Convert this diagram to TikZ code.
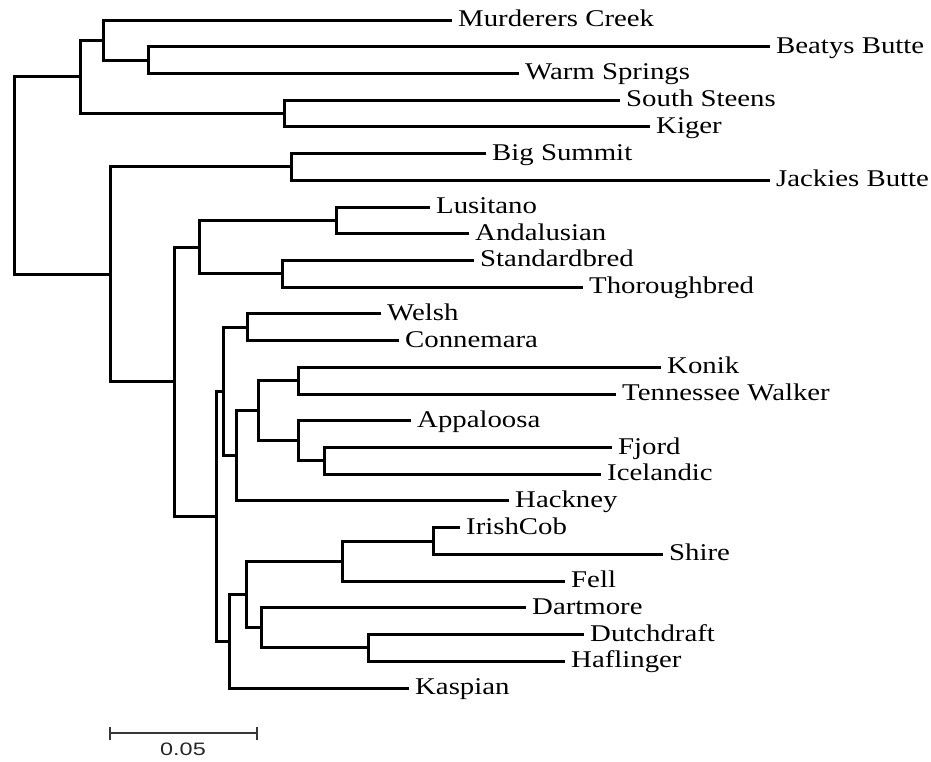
\documentclass[tikz,border=0pt]{standalone}
\usepackage{fontspec}
\setmainfont{Liberation Serif}[FakeStretch=1.2]
\newfontfamily\barfont{Liberation Sans}[FakeStretch=1.3]
\begin{document}
\begin{tikzpicture}[x=1pt,y=-1pt,
  br/.style={line width=3pt, line join=miter, line cap=rect, black},
  lab/.style={anchor=base west, inner sep=0pt, xshift=8pt, yshift=-6.5pt, font=\fontsize{24}{28}\selectfont, text=black},
  sbar/.style={line width=2pt, color=black!78}]
\useasboundingbox (0,0) rectangle (931,761);
% leaf tips
\coordinate (murderers) at (450,20.00);
\coordinate (beatys)    at (768,46.72);
\coordinate (warm)      at (517,73.44);
\coordinate (ssteens)   at (618,100.16);
\coordinate (kiger)     at (648,126.88);
\coordinate (bigsummit) at (484,153.60);
\coordinate (jackies)   at (768,180.32);
\coordinate (lusitano)  at (428,207.04);
\coordinate (andalusian) at (467,233.76);
\coordinate (standard)  at (472,260.48);
\coordinate (thorough)  at (581,287.20);
\coordinate (welsh)     at (379,313.92);
\coordinate (connemara) at (397,340.64);
\coordinate (konik)     at (659,367.36);
\coordinate (tennessee) at (614,394.08);
\coordinate (appaloosa) at (409,420.80);
\coordinate (fjord)     at (610,447.52);
\coordinate (icelandic) at (599,474.24);
\coordinate (hackney)   at (507,500.96);
\coordinate (irishcob)  at (458,527.68);
\coordinate (shire)     at (661,554.40);
\coordinate (fell)      at (563,581.12);
\coordinate (dartmore)  at (524,607.84);
\coordinate (dutch)     at (582,634.56);
\coordinate (haflinger) at (563,661.28);
\coordinate (kaspian)   at (407,688.00);
% internal nodes
\coordinate (nRoot) at (14,175.57);
\coordinate (nA) at (80,76.78);
\coordinate (nB) at (103,40.04);
\coordinate (nC) at (148,60.08);
\coordinate (nD) at (284,113.52);
\coordinate (nF) at (110,274.37);
\coordinate (nE) at (291,166.96);
\coordinate (nI) at (174,381.77);
\coordinate (nH) at (199,247.12);
\coordinate (nG) at (336,220.40);
\coordinate (nJ) at (282,273.84);
\coordinate (nK) at (216,516.41);
\coordinate (nM) at (223,391.58);
\coordinate (nL) at (247,327.28);
\coordinate (nN) at (236,455.87);
\coordinate (nO) at (258,410.78);
\coordinate (nP) at (298,380.72);
\coordinate (nQ) at (298,440.84);
\coordinate (nR) at (324,460.88);
\coordinate (nV) at (229,641.24);
\coordinate (nU) at (246,594.48);
\coordinate (nT) at (342,561.08);
\coordinate (nS) at (433,541.04);
\coordinate (nW) at (261,627.88);
\coordinate (nX) at (368,647.92);
% branches
\draw[br] (nRoot) |- (nA);  \draw[br] (nRoot) |- (nF);
\draw[br] (nA) |- (nB);     \draw[br] (nA) |- (nD);
\draw[br] (nB) |- (murderers); \draw[br] (nB) |- (nC);
\draw[br] (nC) |- (beatys); \draw[br] (nC) |- (warm);
\draw[br] (nD) |- (ssteens); \draw[br] (nD) |- (kiger);
\draw[br] (nF) |- (nE);     \draw[br] (nF) |- (nI);
\draw[br] (nE) |- (bigsummit); \draw[br] (nE) |- (jackies);
\draw[br] (nI) |- (nH);     \draw[br] (nI) |- (nK);
\draw[br] (nH) |- (nG);     \draw[br] (nH) |- (nJ);
\draw[br] (nG) |- (lusitano); \draw[br] (nG) |- (andalusian);
\draw[br] (nJ) |- (standard); \draw[br] (nJ) |- (thorough);
\draw[br] (nK) |- (nM);     \draw[br] (nK) |- (nV);
\draw[br] (nM) |- (nL);     \draw[br] (nM) |- (nN);
\draw[br] (nL) |- (welsh);  \draw[br] (nL) |- (connemara);
\draw[br] (nN) |- (nO);     \draw[br] (nN) |- (hackney);
\draw[br] (nO) |- (nP);     \draw[br] (nO) |- (nQ);
\draw[br] (nP) |- (konik);  \draw[br] (nP) |- (tennessee);
\draw[br] (nQ) |- (appaloosa); \draw[br] (nQ) |- (nR);
\draw[br] (nR) |- (fjord);  \draw[br] (nR) |- (icelandic);
\draw[br] (nV) |- (nU);     \draw[br] (nV) |- (kaspian);
\draw[br] (nU) |- (nT);     \draw[br] (nU) |- (nW);
\draw[br] (nT) |- (nS);     \draw[br] (nT) |- (fell);
\draw[br] (nS) |- (irishcob); \draw[br] (nS) |- (shire);
\draw[br] (nW) |- (dartmore); \draw[br] (nW) |- (nX);
\draw[br] (nX) |- (dutch);  \draw[br] (nX) |- (haflinger);
% labels
\node[lab] (tmurderers) at (murderers) {Murderers Creek};
\node[lab] (tbeatys) at (beatys) {Beatys Butte};
\node[lab] (twarm) at (warm) {Warm Springs};
\node[lab] (tssteens) at (ssteens) {South Steens};
\node[lab] (tkiger) at (kiger) {Kiger};
\node[lab] (tbigsummit) at (bigsummit) {Big Summit};
\node[lab] (tjackies) at (jackies) {Jackies Butte};
\node[lab] (tlusitano) at (lusitano) {Lusitano};
\node[lab] (tandalusian) at (andalusian) {Andalusian};
\node[lab] (tstandard) at (standard) {Standardbred};
\node[lab] (tthorough) at (thorough) {Thoroughbred};
\node[lab] (twelsh) at (welsh) {Welsh};
\node[lab] (tconnemara) at (connemara) {Connemara};
\node[lab] (tkonik) at (konik) {Konik};
\node[lab] (ttennessee) at (tennessee) {Tennessee Walker};
\node[lab] (tappaloosa) at (appaloosa) {Appaloosa};
\node[lab] (tfjord) at (fjord) {Fjord};
\node[lab] (ticelandic) at (icelandic) {Icelandic};
\node[lab] (thackney) at (hackney) {Hackney};
\node[lab] (tirishcob) at (irishcob) {IrishCob};
\node[lab] (tshire) at (shire) {Shire};
\node[lab] (tfell) at (fell) {Fell};
\node[lab] (tdartmore) at (dartmore) {Dartmore};
\node[lab] (tdutch) at (dutch) {Dutchdraft};
\node[lab] (thaflinger) at (haflinger) {Haflinger};
\node[lab] (tkaspian) at (kaspian) {Kaspian};
% scale bar
\coordinate (sbL) at (109.5,733.3);
\coordinate (sbR) at (256.5,733.3);
\draw[sbar] (sbL) -- (sbR);
\draw[sbar] ([yshift=6.5pt]sbL) -- ([yshift=-6.5pt]sbL);
\draw[sbar] ([yshift=6.5pt]sbR) -- ([yshift=-6.5pt]sbR);
\node[font=\barfont\fontsize{18}{20}\selectfont, inner sep=0pt, anchor=base, text=black!85] (sblabel) at (183,755.5) {0.05};
\end{tikzpicture}
\end{document}
